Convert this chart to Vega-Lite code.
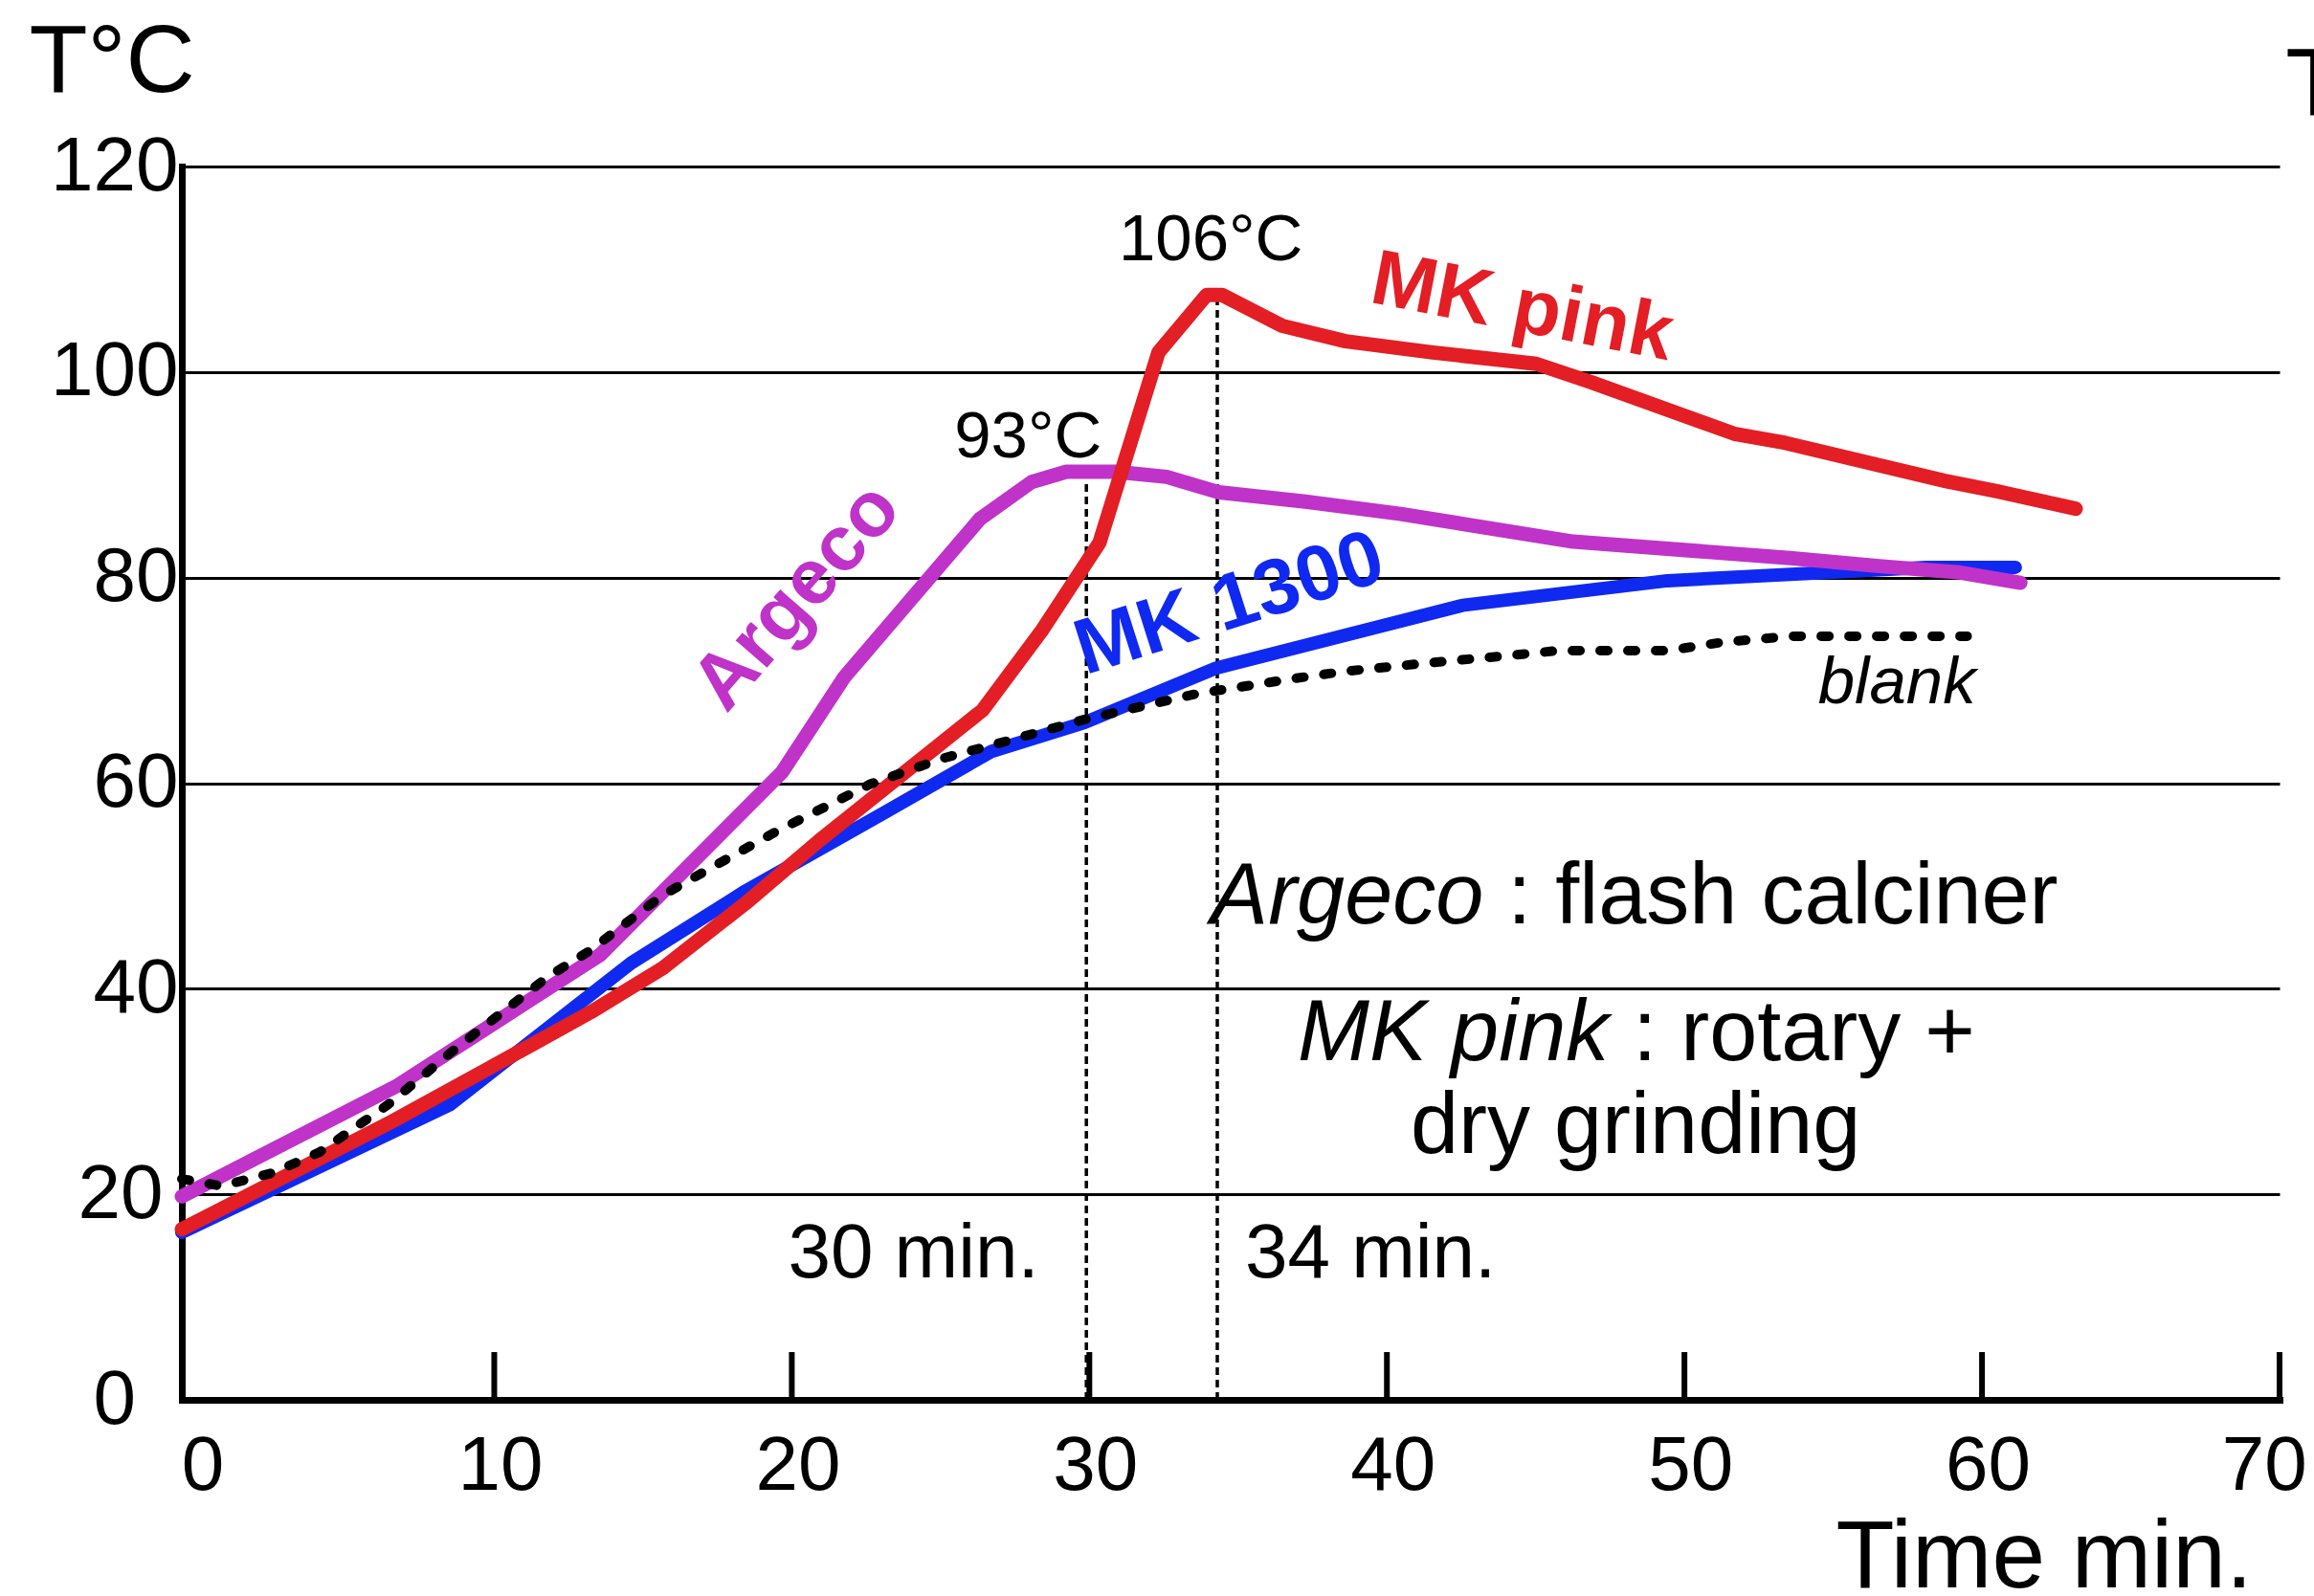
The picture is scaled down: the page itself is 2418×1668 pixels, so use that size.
{
  "$schema": "https://vega.github.io/schema/vega-lite/v6.json",
  "width": 2192,
  "height": 1289,
  "padding": {"left": 190, "top": 174, "right": 36, "bottom": 205},
  "autosize": {"type": "none"},
  "background": "white",
  "config": {
    "view": {"stroke": null},
    "font": "Liberation Sans",
    "text": {"font": "Liberation Sans"}
  },
  "datasets": {
    "argeco": [
      {"t": -0.5, "temp": 19.8}, {"t": 6.76, "temp": 30.6}, {"t": 13.56, "temp": 43.3},
      {"t": 19.68, "temp": 61.1}, {"t": 21.76, "temp": 70.3}, {"t": 26.32, "temp": 85.7},
      {"t": 28.06, "temp": 89.3}, {"t": 29.23, "temp": 90.3}, {"t": 30.86, "temp": 90.3},
      {"t": 32.6, "temp": 89.8}, {"t": 34.36, "temp": 88.3}, {"t": 37.26, "temp": 87.4},
      {"t": 40.46, "temp": 86.2}, {"t": 46.26, "temp": 83.5}, {"t": 53.55, "temp": 81.9},
      {"t": 56.63, "temp": 81.1}, {"t": 59.26, "temp": 80.5}, {"t": 61.29, "temp": 79.5}
    ],
    "mkpink": [
      {"t": -0.5, "temp": 16.6}, {"t": 6.58, "temp": 27.1}, {"t": 11.29, "temp": 34.6},
      {"t": 13.23, "temp": 37.7}, {"t": 15.66, "temp": 42.0}, {"t": 18.44, "temp": 48.3},
      {"t": 20.92, "temp": 54.4}, {"t": 26.41, "temp": 67.1}, {"t": 28.39, "temp": 74.8},
      {"t": 30.34, "temp": 83.4}, {"t": 32.32, "temp": 101.9}, {"t": 33.94, "temp": 107.5},
      {"t": 34.46, "temp": 107.5}, {"t": 36.48, "temp": 104.5}, {"t": 38.61, "temp": 103.0},
      {"t": 41.54, "temp": 101.9}, {"t": 45.02, "temp": 100.8}, {"t": 46.88, "temp": 99.0},
      {"t": 51.67, "temp": 94.0}, {"t": 53.4, "temp": 93.1}, {"t": 58.76, "temp": 89.4},
      {"t": 60.5, "temp": 88.4}, {"t": 63.15, "temp": 86.7}
    ],
    "mk1300": [
      {"t": -0.5, "temp": 16.3}, {"t": 8.5, "temp": 28.7}, {"t": 14.6, "temp": 42.5},
      {"t": 18.44, "temp": 49.5}, {"t": 23.15, "temp": 57.2}, {"t": 26.72, "temp": 63.1},
      {"t": 29.84, "temp": 65.9}, {"t": 34.26, "temp": 71.2}, {"t": 42.54, "temp": 77.3},
      {"t": 49.43, "temp": 79.7}, {"t": 58.14, "temp": 81.0}, {"t": 61.12, "temp": 81.0}
    ],
    "blank": [
      {"t": -0.5, "temp": 21.5}, {"t": 0.83, "temp": 20.8}, {"t": 2.57, "temp": 22.1},
      {"t": 4.13, "temp": 24.1}, {"t": 6.42, "temp": 28.7}, {"t": 8.67, "temp": 34.1},
      {"t": 11.82, "temp": 41.2}, {"t": 13.21, "temp": 43.7}, {"t": 15.66, "temp": 49.1},
      {"t": 17.92, "temp": 52.8}, {"t": 19.48, "temp": 55.3}, {"t": 22.63, "temp": 59.9},
      {"t": 25.06, "temp": 62.4}, {"t": 26.72, "temp": 63.7}, {"t": 29.84, "temp": 66.2},
      {"t": 33.61, "temp": 68.7}, {"t": 36.91, "temp": 70.2}, {"t": 38.65, "temp": 70.9},
      {"t": 41.4, "temp": 71.7}, {"t": 44.38, "temp": 72.5}, {"t": 45.77, "temp": 72.9},
      {"t": 49.43, "temp": 72.9}, {"t": 51.25, "temp": 73.7}, {"t": 53.55, "temp": 74.3},
      {"t": 59.5, "temp": 74.3}
    ]
  },
  "encoding": {
    "x": {
      "field": "t",
      "type": "quantitative",
      "scale": {"domain": [-0.5, 70], "nice": false, "zero": false},
      "axis": {
        "values": [0, 10, 20, 30, 40, 50, 60, 70],
        "title": "Time min.",
        "titleFont": "Liberation Sans",
        "titleFontSize": 100,
        "titleFontWeight": "normal",
        "titleColor": "black",
        "titleAngle": 0,
        "titleAlign": "left",
        "titleBaseline": "alphabetic",
        "titleX": 1728,
        "titleY": 195,
        "ticks": false,
        "grid": false,
        "domainColor": "black",
        "domainWidth": 7,
        "domainCap": "square",
        "labelFont": "Liberation Sans",
        "labelFontSize": 80,
        "labelColor": "black",
        "labelPadding": 30,
        "labelOffset": 6,
        "labelFlush": false,
        "labelOverlap": false,
        "labelBound": false,
        "labelExpr": "datum.value == 70 ? '70\u00a0\u00a0\u200b' : datum.label"
      }
    },
    "y": {
      "field": "temp",
      "type": "quantitative",
      "scale": {"domain": [0, 120], "nice": false, "zero": false},
      "axis": {
        "values": [0, 20, 40, 60, 80, 100, 120],
        "title": "T°C",
        "titleFont": "Liberation Sans",
        "titleFontSize": 100,
        "titleFontWeight": "normal",
        "titleColor": "black",
        "titleAngle": 0,
        "titleAlign": "left",
        "titleBaseline": "alphabetic",
        "titleX": -160,
        "titleY": -79,
        "ticks": false,
        "grid": true,
        "gridColor": "black",
        "gridWidth": 3,
        "gridOpacity": 1,
        "domainColor": "black",
        "domainWidth": 7,
        "domainCap": "square",
        "labelFont": "Liberation Sans",
        "labelFontSize": 80,
        "labelColor": "black",
        "labelPadding": 4,
        "labelOverlap": false,
        "labelBound": false,
        "labelFlush": false,
        "labelExpr": "datum.value == 0 ? '0\u00a0\u00a0\u200b' : datum.value == 20 ? '20\u2009\u200b' : datum.label"
      }
    }
  },
  "layer": [
    {
      "data": {"values": [{"t": 10, "temp": 0}, {"t": 20, "temp": 0}, {"t": 30, "temp": 0}, {"t": 40, "temp": 0}, {"t": 50, "temp": 0}, {"t": 60, "temp": 0}, {"t": 70, "temp": 0}]},
      "mark": {"type": "rule", "color": "black", "strokeWidth": 6},
      "encoding": {"y2": {"datum": 4.65}}
    },
    {
      "data": {"values": [{"t": 29.9, "temp": 0, "top": 89.5}, {"t": 34.3, "temp": 0, "top": 106.9}]},
      "mark": {"type": "rule", "color": "black", "strokeWidth": 3.5, "strokeDash": [8, 5]},
      "encoding": {"y2": {"field": "top"}}
    },
    {
      "data": {"name": "mk1300"},
      "mark": {"type": "line", "color": "#1029F0", "strokeWidth": 14, "strokeCap": "round", "strokeJoin": "round"}
    },
    {
      "data": {"name": "argeco"},
      "mark": {"type": "line", "color": "#BF33C9", "strokeWidth": 15, "strokeCap": "round", "strokeJoin": "round"}
    },
    {
      "data": {"name": "mkpink"},
      "mark": {"type": "line", "color": "#E31E24", "strokeWidth": 15, "strokeCap": "round", "strokeJoin": "round"}
    },
    {
      "data": {"name": "blank"},
      "mark": {"type": "line", "color": "black", "strokeWidth": 10, "strokeCap": "round", "strokeJoin": "round", "strokeDash": [8, 21]}
    },
    {
      "data": {"values": [{"t": 34.08, "temp": 110.87, "label": "106°C"}, {"t": 27.94, "temp": 91.7, "label": "93°C"}]},
      "mark": {"type": "text", "fontSize": 69, "align": "center", "baseline": "alphabetic", "color": "black"},
      "encoding": {"text": {"field": "label"}}
    },
    {
      "data": {"values": [{"t": 24.09, "temp": 11.92, "label": "30 min."}, {"t": 39.45, "temp": 11.92, "label": "34 min."}]},
      "mark": {"type": "text", "fontSize": 80, "align": "center", "baseline": "alphabetic", "color": "black"},
      "encoding": {"text": {"field": "label"}}
    },
    {
      "data": {"values": [{"t": 57.14, "temp": 67.77, "label": "blank"}]},
      "mark": {"type": "text", "fontSize": 69, "fontStyle": "italic", "align": "center", "baseline": "alphabetic", "color": "black"},
      "encoding": {"text": {"field": "label"}}
    },
    {
      "data": {"values": [{"t": 43.25, "temp": 46.36, "label": "Argeco"}, {"t": 47.46, "temp": 33.05, "label": "MK pink"}]},
      "mark": {"type": "text", "fontSize": 90, "fontStyle": "italic", "align": "right", "baseline": "alphabetic", "color": "black"},
      "encoding": {"text": {"field": "label"}}
    },
    {
      "data": {"values": [{"t": 43.25, "temp": 46.36, "label": "\u200b\u00a0: flash calciner"}, {"t": 47.46, "temp": 33.05, "label": "\u200b\u00a0: rotary +"}]},
      "mark": {"type": "text", "fontSize": 90, "align": "left", "baseline": "alphabetic", "color": "black"},
      "encoding": {"text": {"field": "label"}}
    },
    {
      "data": {"values": [{"t": 48.36, "temp": 24.02, "label": "dry grinding"}]},
      "mark": {"type": "text", "fontSize": 90, "align": "center", "baseline": "alphabetic", "color": "black"},
      "encoding": {"text": {"field": "label"}}
    },
    {
      "data": {"values": [{"t": 20.17, "temp": 78.13, "label": "Argeco"}]},
      "mark": {"type": "text", "fontSize": 82, "fontWeight": "bold", "angle": -49, "align": "center", "baseline": "middle", "color": "#BF33C9"},
      "encoding": {"text": {"field": "label"}}
    },
    {
      "data": {"values": [{"t": 44.55, "temp": 106.27, "label": "MK pink"}]},
      "mark": {"type": "text", "fontSize": 82, "fontWeight": "bold", "angle": 11, "align": "center", "baseline": "middle", "color": "#E31E24"},
      "encoding": {"text": {"field": "label"}}
    },
    {
      "data": {"values": [{"t": 34.71, "temp": 77.41, "label": "MK 1300"}]},
      "mark": {"type": "text", "fontSize": 82, "fontWeight": "bold", "angle": -17.6, "align": "center", "baseline": "middle", "color": "#1029F0"},
      "encoding": {"text": {"field": "label"}}
    },
    {
      "data": {"values": [{"t": 70.2, "temp": 125.0, "label": "T°C"}]},
      "mark": {"type": "text", "fontSize": 100, "align": "left", "baseline": "alphabetic", "color": "black"},
      "encoding": {"text": {"field": "label"}}
    }
  ]
}
